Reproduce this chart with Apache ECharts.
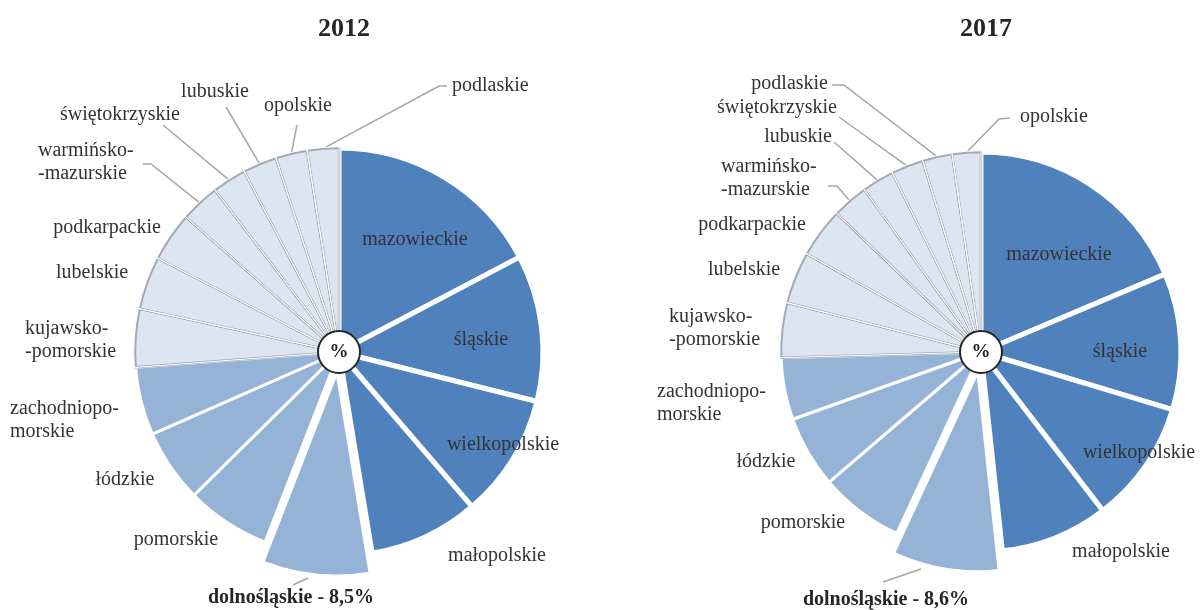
<!DOCTYPE html>
<html>
<head>
<meta charset="utf-8">
<script src="https://cdn.jsdelivr.net/npm/echarts@6/dist/echarts.min.js"></script>
<style>
html,body{margin:0;padding:0;background:#fff;}
#chart{width:1201px;height:610px;}
</style>
</head>
<body>
<div id="chart"></div>
<script>
// ---- data ----
const years = ['2012', '2017'];
const regions2012 = ['mazowieckie','śląskie','wielkopolskie','małopolskie','dolnośląskie','pomorskie','łódzkie','zachodniopomorskie','kujawsko-pomorskie','lubelskie','podkarpackie','warmińsko-mazurskie','świętokrzyskie','lubuskie','opolskie','podlaskie'];
const values2012 = [17.3, 11.6, 9.8, 8.7, 8.5, 6.7, 5.8, 5.4, 4.6, 4.2, 3.9, 3.1, 2.7, 2.7, 2.5, 2.5];
const regions2017 = ['mazowieckie','śląskie','wielkopolskie','małopolskie','dolnośląskie','pomorskie','łódzkie','zachodniopomorskie','kujawsko-pomorskie','lubelskie','podkarpackie','warmińsko-mazurskie','lubuskie','świętokrzyskie','podlaskie','opolskie'];
const values2017 = [18.6, 11.0, 9.9, 8.7, 8.6, 6.8, 5.8, 5.0, 4.4, 4.2, 4.0, 2.9, 2.6, 2.6, 2.4, 2.3];
const highlighted = 'dolnośląskie';
const darkGroup = ['mazowieckie','śląskie','wielkopolskie','małopolskie'];
const mediumGroup = ['dolnośląskie','pomorskie','łódzkie','zachodniopomorskie'];
const labelText = {
  'warmińsko-mazurskie': 'warmińsko-\n-mazurskie',
  'kujawsko-pomorskie': 'kujawsko-\n-pomorskie',
  'zachodniopomorskie': 'zachodniopo-\nmorskie'
};

// ---- layout / style ----
const FONT = '"Liberation Serif","Times New Roman",serif';
const DARK = '#4f81bd', MEDIUM = '#95b3d7', LIGHT = '#dce6f2';
const EXPLODE = 20;
const pies = [
  {center: [339, 352], r: 204},
  {center: [981, 352], r: 200}
];
// label anchors: [x, y, align, leader-line points after the slice edge point, useOwnStart]
const labelPos = [
  {
    'mazowieckie': [415, 240, 'center'],
    'śląskie': [481, 340, 'center'],
    'wielkopolskie': [503, 445, 'center'],
    'małopolskie': [497, 556, 'center'],
    'dolnośląskie': [291, 598, 'center', [[308, 578], [293, 585]], true],
    'pomorskie': [176, 540, 'center'],
    'łódzkie': [125, 480, 'center'],
    'zachodniopomorskie': [10, 420, 'left'],
    'kujawsko-pomorskie': [25, 340, 'left'],
    'lubelskie': [92, 273, 'center'],
    'podkarpackie': [107, 228, 'center'],
    'warmińsko-mazurskie': [38, 162, 'left', [[151, 164], [143, 164]]],
    'świętokrzyskie': [120, 115, 'center', [[163, 125]]],
    'lubuskie': [215, 92, 'center', [[226, 107]]],
    'opolskie': [298, 106, 'center', [[297, 125]]],
    'podlaskie': [452, 86, 'left', [[439, 86], [447, 86]]]
  },
  {
    'mazowieckie': [1059, 255, 'center'],
    'śląskie': [1120, 352, 'center'],
    'wielkopolskie': [1139, 453, 'center'],
    'małopolskie': [1121, 552, 'center'],
    'dolnośląskie': [886, 600, 'center', [[921, 569], [883, 582]], true],
    'pomorskie': [803, 523, 'center'],
    'łódzkie': [766, 462, 'center'],
    'zachodniopomorskie': [657, 403, 'left'],
    'kujawsko-pomorskie': [669, 328, 'left'],
    'lubelskie': [744, 270, 'center'],
    'podkarpackie': [752, 225, 'center'],
    'warmińsko-mazurskie': [721, 178, 'left', [[837, 186], [828, 186]]],
    'lubuskie': [832, 137, 'right', [[834, 142]]],
    'świętokrzyskie': [837, 108, 'right', [[839, 117]]],
    'podlaskie': [828, 84, 'right', [[844, 85], [832, 85]]],
    'opolskie': [1020, 117, 'left', [[999, 119], [1010, 118]]]
  }
];

function tierOf(name) {
  if (darkGroup.indexOf(name) >= 0) return 'dark';
  if (mediumGroup.indexOf(name) >= 0) return 'medium';
  return 'light';
}
function styleOf(name) {
  const t = tierOf(name);
  return t === 'dark' ? {color: DARK, borderColor: '#fff', borderWidth: 5}
       : t === 'medium' ? {color: MEDIUM, borderColor: '#fff', borderWidth: 3}
       : {color: LIGHT, borderColor: '#a3abb6', borderWidth: 2.5};
}
const HIDDEN = {color: 'rgba(0,0,0,0)', borderColor: 'rgba(0,0,0,0)', borderWidth: 0};

function mainData(names, values, posMap) {
  return names.map(function (n, i) {
    const spec = posMap[n];
    return {
      name: n,
      value: values[i],
      itemStyle: n === highlighted ? HIDDEN : styleOf(n),
      label: n === highlighted ? {fontWeight: 'bold', color: '#262626'} : {},
      labelLine: {show: !!(spec && spec[3])}
    };
  });
}
function explodedData(names, values) {
  return names.map(function (n, i) {
    return {name: n, value: values[i], itemStyle: n === highlighted ? styleOf(n) : HIDDEN};
  });
}
function overlayData(names, values) {
  return names.map(function (n, i) {
    const light = tierOf(n) === 'light';
    return {
      name: n,
      value: values[i],
      itemStyle: {color: 'rgba(0,0,0,0)', borderColor: light ? '#ffffff' : 'rgba(0,0,0,0)', borderWidth: light ? 1 : 0}
    };
  });
}
// centre of the pulled-out slice, from the data (mid angle of the highlighted slice)
function explodedCenter(names, values, center) {
  let total = 0, before = 0, idx = names.indexOf(highlighted);
  values.forEach(function (v, i) { total += v; if (i < idx) before += v; });
  const theta = (before + values[idx] / 2) / total * 2 * Math.PI;
  return [center[0] + EXPLODE * Math.sin(theta), center[1] - EXPLODE * Math.cos(theta)];
}

function makeLayout(names, posMap) {
  return function (params) {
    const n = names[params.dataIndex];
    const s = posMap[n];
    if (!s) return {};
    const out = {x: s[0], y: s[1], align: s[2], verticalAlign: 'middle'};
    if (s[3] && params.labelLinePoints) {
      const pts = s[4] ? s[3].slice() : [params.labelLinePoints[0]].concat(s[3]);
      while (pts.length < 3) pts.push(pts[pts.length - 1]);
      out.labelLinePoints = pts;
    }
    return out;
  };
}

const allNames = [regions2012, regions2017];
const allValues = [values2012, values2017];
const series = [];
const titles = [];
pies.forEach(function (p, k) {
  const names = allNames[k], values = allValues[k];
  titles.push({
    text: years[k], left: p.center[0], top: 11, textAlign: 'center',
    textStyle: {fontFamily: FONT, fontSize: 26, fontWeight: 'bold', color: '#262626'}
  });
  const common = {type: 'pie', radius: [0, p.r], startAngle: 90, clockwise: true, animation: false, emphasis: {disabled: true}};
  series.push(Object.assign({}, common, {
    center: p.center,
    avoidLabelOverlap: false,
    label: {
      show: true, position: 'outside', fontFamily: FONT, fontSize: 20, color: '#333', lineHeight: 23,
      formatter: function (prm) {
        if (prm.name === highlighted) {
          return prm.name + ' - ' + String(prm.value.toFixed(1)).replace('.', ',') + '%';
        }
        return labelText[prm.name] || prm.name;
      }
    },
    labelLine: {show: false, length: 10, length2: 10, smooth: false, lineStyle: {color: '#a6a6a6', width: 1.5}},
    labelLayout: makeLayout(names, labelPos[k]),
    data: mainData(names, values, labelPos[k]),
    z: 1
  }));
  series.push(Object.assign({}, common, {
    center: explodedCenter(names, values, p.center),
    silent: true,
    label: {show: false},
    labelLine: {show: false},
    data: explodedData(names, values),
    z: 1
  }));
  series.push(Object.assign({}, common, {
    center: p.center,
    radius: [0, p.r + 1.25],
    silent: true,
    label: {show: false},
    labelLine: {show: false},
    data: overlayData(names, values),
    z: 2
  }));
  series.push({
    type: 'pie',
    center: p.center,
    radius: [0, 21],
    silent: true,
    animation: false,
    emphasis: {disabled: true},
    itemStyle: {color: '#fff', borderColor: '#262626', borderWidth: 2},
    label: {show: true, position: 'center', formatter: '%', fontFamily: FONT, fontSize: 19, fontWeight: 'bold', color: '#262626'},
    labelLine: {show: false},
    data: [{value: 1, name: '%'}],
    z: 3
  });
});

const chart = echarts.init(document.getElementById('chart'), null, {renderer: 'canvas'});
chart.setOption({
  backgroundColor: '#ffffff',
  animation: false,
  title: titles,
  tooltip: {show: false},
  series: series
});
</script>
</body>
</html>
